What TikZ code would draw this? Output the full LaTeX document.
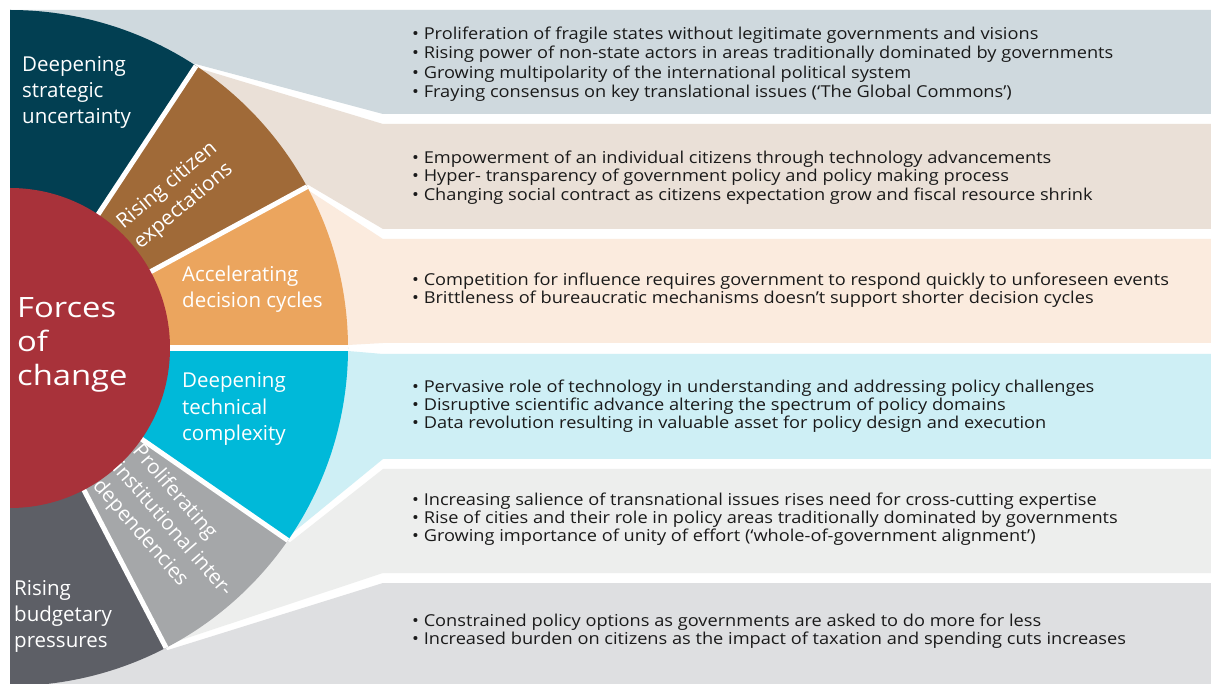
\documentclass[tikz,border=0pt]{standalone}
\usepackage{fontspec}
\setmainfont{Open Sans}
\newfontfamily\bandfont[FakeStretch=1.11]{Open Sans}
\newfontfamily\corefont[FakeStretch=1.17]{Open Sans}
\usetikzlibrary{calc}
\definecolor{cDarkBlue}{HTML}{023F52}
\definecolor{cBrown}{HTML}{A06A38}
\definecolor{cOrange}{HTML}{EBA55E}
\definecolor{cCyan}{HTML}{00B9D9}
\definecolor{cGrey}{HTML}{A5A7A9}
\definecolor{cDarkGrey}{HTML}{5D5F66}
\definecolor{cRed}{HTML}{A8323A}
\definecolor{bOne}{HTML}{CFD9DE}
\definecolor{bTwo}{HTML}{EAE0D7}
\definecolor{bThree}{HTML}{FBEBDE}
\definecolor{bFour}{HTML}{CEEFF5}
\definecolor{bFive}{HTML}{EDEEED}
\definecolor{bSix}{HTML}{DEDFE1}
\definecolor{txt}{HTML}{1A1A1A}
\begin{document}
\begin{tikzpicture}[x=1pt,y=-1pt,
  bandtext/.style={anchor=west, inner sep=0pt, align=left, text=txt, font=\bandfont\fontsize{16.4}{18.3}\selectfont},
  fanlabel/.style={inner sep=0pt, align=left, text=white, font=\fontsize{20.5}{26.3}\selectfont},
  sep/.style={white, line width=5pt}]
\useasboundingbox (0,0) rectangle (1211,684);
\fill[white] (0,0) rectangle (1211,684);
\coordinate (C) at (10,348);
\coordinate (P1) at ($(C)+(56.6:338pt)$);
\coordinate (P2) at ($(C)+(28.5:338pt)$);
\coordinate (P3) at ($(C)+(0:338pt)$);
\coordinate (P4) at ($(C)+(-34.7:338pt)$);
\coordinate (P5) at ($(C)+(-62.5:338pt)$);
% bands
\fill[bOne] (10,10) -- (1211,10) -- (1211,114) -- (383,114) -- ($(P1)+(-1,-2)$) -- (C) -- cycle;
\fill[bTwo] ($(P1)+(1,2)$) -- (383,124) -- (1211,124) -- (1211,229) -- (383,229) -- ($(P2)+(1,-2)$) -- (C) -- cycle;
\fill[bThree] ($(P2)+(-1,2)$) -- (383,239) -- (1211,239) -- (1211,343) -- (383,343) -- ($(P3)+(0,-3)$) -- (C) -- cycle;
\fill[bFour] ($(P3)+(0,3)$) -- (383,354) -- (1211,354) -- (1211,459) -- (383,459) -- ($(P4)+(-2,-2)$) -- (C) -- cycle;
\fill[bFive] ($(P4)+(2,2)$) -- (383,469) -- (1211,469) -- (1211,573) -- (383,573) -- ($(P5)+(-1,-2.5)$) -- (C) -- cycle;
\fill[bSix] ($(P5)+(1,2.5)$) -- (383,583) -- (1211,583) -- (1211,684) -- (10,684) -- (C) -- cycle;
% fan sectors
\fill[cDarkBlue] (C) -- ($(C)+(90:338pt)$) arc[start angle=90, end angle=56.6, radius=338pt] -- cycle;
\fill[cBrown] (C) -- (P1) arc[start angle=56.6, end angle=28.5, radius=338pt] -- cycle;
\fill[cOrange] (C) -- (P2) arc[start angle=28.5, end angle=0, radius=338pt] -- cycle;
\fill[cCyan] (C) -- (P3) arc[start angle=0, end angle=-34.7, radius=338pt] -- cycle;
\fill[cGrey] (C) -- (P4) arc[start angle=-34.7, end angle=-62.5, radius=338pt] -- cycle;
\fill[cDarkGrey] (C) -- (P5) arc[start angle=-62.5, end angle=-90, radius=338pt] -- cycle;
% separators
\draw[sep] (C) -- (P1);
\draw[sep] (C) -- (P2);
\draw[sep, line width=6pt] (C) -- (P3);
\draw[sep] (C) -- (P4);
\draw[sep] (C) -- (P5);
% centre
\fill[cRed] ($(C)+(90:160pt)$) arc[start angle=90, end angle=-90, radius=160pt] -- cycle;
\node[inner sep=0pt, align=left, text=white, font=\corefont\fontsize{28}{34}\selectfont, anchor=west] (core) at (17,345) {Forces\\of\\change};
% fan labels
\node[fanlabel, anchor=west] (l1) at (22,92.5) {Deepening\\strategic\\uncertainty};
\node[fanlabel, rotate=40] (l2) at (176,196) {Rising citizen\\expectations};
\node[fanlabel, anchor=west] (l3) at (182,289) {Accelerating\\decision cycles};
\node[fanlabel, anchor=west] (l4) at (182,409) {Deepening\\technical\\complexity};
\node[fanlabel, rotate=-49] (l5) at (172,530) {Proliferating\\institutional inter-\\dependencies};
\node[fanlabel, anchor=west] (l6) at (14,616.5) {Rising\\budgetary\\pressures};
% band texts
\node[bandtext, font=\bandfont\fontsize{16.4}{19.5}\selectfont] (t1) at (412,64) {• Proliferation of fragile states without legitimate governments and visions\\• Rising power of non-state actors in areas traditionally dominated by governments\\• Growing multipolarity of the international political system\\• Fraying consensus on key translational issues (‘The Global Commons’)};
\node[bandtext] (t2) at (412,177.5) {• Empowerment of an individual citizens through technology advancements\\• Hyper- transparency of government policy and policy making process\\• Changing social contract as citizens expectation grow and fiscal resource shrink};
\node[bandtext] (t3) at (412,290.5) {• Competition for influence requires government to respond quickly to unforeseen events\\• Brittleness of bureaucratic mechanisms doesn’t support shorter decision cycles};
\node[bandtext] (t4) at (412,406) {• Pervasive role of technology in understanding and addressing policy challenges\\• Disruptive scientific advance altering the spectrum of policy domains\\• Data revolution resulting in valuable asset for policy design and execution};
\node[bandtext] (t5) at (412,519) {• Increasing salience of transnational issues rises need for cross-cutting expertise\\• Rise of cities and their role in policy areas traditionally dominated by governments\\• Growing importance of unity of effort (‘whole-of-government alignment’)};
\node[bandtext] (t6) at (412,631.5) {• Constrained policy options as governments are asked to do more for less\\• Increased burden on citizens as the impact of taxation and spending cuts increases};
\end{tikzpicture}
\end{document}
